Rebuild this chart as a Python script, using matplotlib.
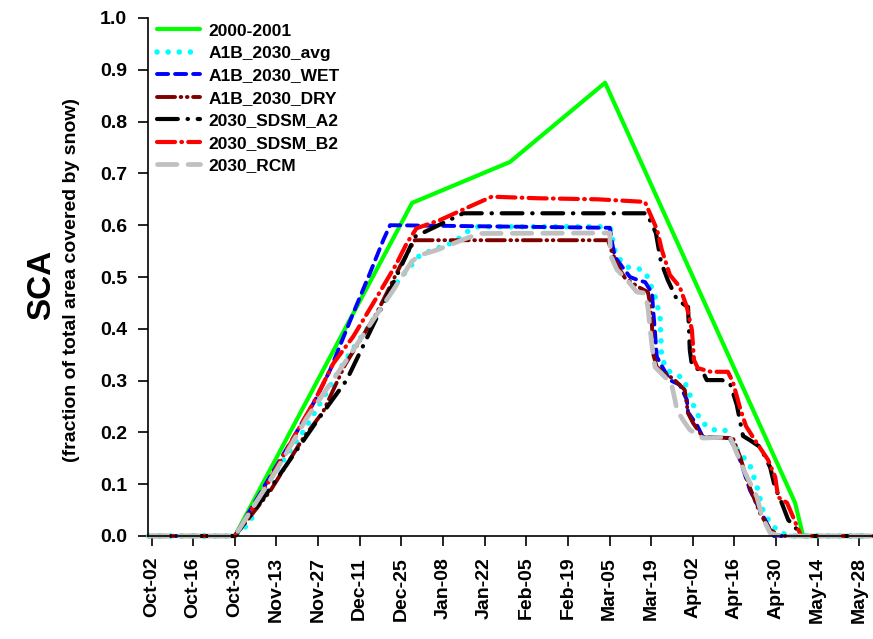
import matplotlib
matplotlib.use("Agg")
import matplotlib.pyplot as plt

plt.rcParams['font.family'] = ['Liberation Sans', 'DejaVu Sans']
plt.rcParams['font.weight'] = 'bold'
plt.rcParams['lines.scale_dashes'] = False

# x values are days after Oct-02 (season 2000-2001)
tick_days = list(range(0, 239, 14))
tick_labels = ["Oct-02", "Oct-16", "Oct-30", "Nov-13", "Nov-27", "Dec-11", "Dec-25",
               "Jan-08", "Jan-22", "Feb-05", "Feb-19", "Mar-05", "Mar-19", "Apr-02",
               "Apr-16", "Apr-30", "May-14", "May-28"]

obs_x = [-1, 28, 87.6, 120.5, 152.5, 216.4, 219.1, 242]
obs_y = [0, 0, 0.643, 0.722, 0.875, 0.064, 0, 0]

avg_x = [-1, 28, 33, 38.1, 43.2, 51, 57.7, 62.2, 66.7, 74.5, 81.3, 84.6, 90.2, 95.9, 102, 106, 109.3,
         152.4, 154.8, 155.2, 156.5, 160.2, 164.2, 166.2, 167.6, 169.3, 171.0, 171.5, 173.3, 178.7,
         181.7, 182.7, 185.4, 188.7, 192.7, 196.8, 201.2, 203.6, 205.6, 208.0, 211.4, 215.8, 242]
avg_y = [0, 0, 0.025, 0.095, 0.137, 0.201, 0.266, 0.311, 0.353, 0.417, 0.481, 0.504, 0.542, 0.555, 0.568,
         0.587, 0.597, 0.597, 0.591, 0.562, 0.539, 0.519, 0.515, 0.508, 0.488, 0.463, 0.423, 0.346,
         0.320, 0.305, 0.263, 0.243, 0.218, 0.205, 0.205, 0.168, 0.137, 0.095, 0.050, 0.025, 0.006, 0, 0]

wet_x = [-1, 28, 48.8, 55, 60, 67.8, 73.4, 77.9, 80.2, 154.1, 154.8, 155.8, 158.6, 160.9, 163.6, 166.0,
         168.3, 168.6, 169.3, 169.9, 171.6, 174.3, 177.6, 180.0, 180.4, 183.4, 185.4, 194.5, 197.9,
         201.2, 204.6, 208.0, 209.3, 242]
wet_y = [0, 0, 0.201, 0.262, 0.32, 0.43, 0.507, 0.571, 0.6, 0.595, 0.568, 0.539, 0.517, 0.500, 0.494,
         0.490, 0.469, 0.442, 0.392, 0.346, 0.328, 0.301, 0.292, 0.263, 0.239, 0.214, 0.191, 0.189,
         0.147, 0.089, 0.050, 0.012, 0, 0]

dry_x = [-1, 28, 39.8, 51, 57.7, 65, 75.7, 83.5, 88.5, 153.5, 154.8, 157.5, 159.2, 163.6, 166.9, 167.6,
         168.3, 168.6, 169.9, 172.6, 175.9, 179.3, 180.4, 182.1, 185.4, 195.5, 197.9, 200.6, 204.6,
         208.0, 211.4, 242]
dry_y = [0, 0, 0.086, 0.189, 0.24, 0.33, 0.43, 0.52, 0.571, 0.571, 0.548, 0.514, 0.498, 0.481, 0.471,
         0.450, 0.403, 0.353, 0.326, 0.315, 0.301, 0.282, 0.237, 0.218, 0.191, 0.189, 0.153, 0.102,
         0.044, 0.012, 0, 0]

a2_x = [-1, 28, 38.7, 55.5, 65.6, 80.2, 88.6, 104.8, 166.5, 169.6, 171.3, 173.6, 176.7, 180.4, 181.0,
        181.7, 185.5, 186.7, 191.8, 194.5, 196.8, 198.9, 201.2, 204.6, 208, 209.6, 211.9, 214.1, 216.4,
        218.6, 242]
a2_y = [0, 0, 0.082, 0.221, 0.301, 0.475, 0.578, 0.623, 0.623, 0.585, 0.529, 0.494, 0.456, 0.442, 0.359,
        0.330, 0.315, 0.301, 0.301, 0.295, 0.253, 0.193, 0.185, 0.172, 0.133, 0.095, 0.064, 0.031, 0.017,
        0, 0]

b2_x = [-1, 28, 38.7, 55, 61.1, 67.8, 74.5, 82.4, 85.8, 89.1, 97, 107, 114.4, 130, 150, 165.9, 170.0,
        171.6, 174.3, 177.6, 180.0, 181.7, 182.4, 183.7, 188.1, 193.8, 195.5, 197.9, 199.9, 202.9,
        207.3, 209.7, 210.7, 213.7, 215.7, 218.4, 242]
b2_y = [0, 0, 0.098, 0.263, 0.333, 0.385, 0.449, 0.526, 0.565, 0.594, 0.61, 0.636, 0.655, 0.652, 0.650,
        0.645, 0.591, 0.552, 0.504, 0.481, 0.442, 0.398, 0.340, 0.324, 0.317, 0.317, 0.297, 0.247,
        0.212, 0.185, 0.147, 0.114, 0.075, 0.064, 0.037, 0, 0]

rcm_x = [-1, 28, 42, 52.1, 65.6, 74.5, 81.3, 87.5, 90.2, 95.9, 106, 110.4, 154.1, 154.3, 156.5, 159.9,
         163.2, 165.9, 166.9, 167.6, 168.3, 169.3, 172.6, 174.9, 176.0, 176.7, 178.7, 181.0, 185.4,
         194.5, 196.8, 199.6, 203.6, 205.3, 208.0, 211.4, 242]
rcm_y = [0, 0, 0.127, 0.227, 0.340, 0.417, 0.475, 0.530, 0.542, 0.552, 0.575, 0.584, 0.585, 0.542, 0.514,
         0.494, 0.471, 0.469, 0.442, 0.403, 0.365, 0.326, 0.307, 0.292, 0.263, 0.243, 0.224, 0.205,
         0.189, 0.191, 0.160, 0.122, 0.075, 0.037, 0.006, 0, 0]

fig = plt.figure(figsize=(8.73, 6.39), dpi=100)
ax = fig.add_axes([148 / 873, 103 / 639, 725 / 873, 518 / 639])

ax.plot(obs_x, obs_y, color='#00ff00', lw=3.0, label='2000-2001', clip_on=False, solid_capstyle='round')
ax.plot(avg_x, avg_y, color='#00ffff', lw=4.0, dashes=(0.01, 8), dash_capstyle='round',
        label='A1B_2030_avg', clip_on=False)
ax.plot(wet_x, wet_y, color='#0000ff', lw=2.8, dashes=(8, 5), dash_capstyle='round',
        label='A1B_2030_WET', clip_on=False)
ax.plot(dry_x, dry_y, color='#800000', lw=2.8, dashes=(13, 4, 0.5, 4, 0.5, 4), dash_capstyle='round',
        label='A1B_2030_DRY', clip_on=False)
ax.plot(a2_x, a2_y, color='black', lw=3.0, dashes=(15, 7, 0.3, 7), dash_capstyle='round',
        label='2030_SDSM_A2', clip_on=False)
ax.plot(b2_x, b2_y, color='#ff0000', lw=3.0, dashes=(13, 4.5, 0.5, 4.5), dash_capstyle='round',
        label='2030_SDSM_B2', clip_on=False)
ax.plot(rcm_x, rcm_y, color='#c0c0c0', lw=3.4, dashes=(14, 8), dash_capstyle='round',
        label='2030_RCM', clip_on=False)

ax.set_xlim(-1.2, 242.6)
ax.set_ylim(0, 1.0)
ax.set_xticks(tick_days)
ax.set_xticklabels(tick_labels, rotation=90, fontsize=14, fontweight='bold')
ax.set_yticks([i / 10 for i in range(11)])
ax.set_yticklabels([f"{i / 10:.1f}" for i in range(11)], fontsize=14, fontweight='bold')
ax.tick_params(axis='both', direction='out', length=7, width=1.2, color='black')
ax.tick_params(axis='x', pad=8)
ax.tick_params(axis='y', pad=8)

ax.spines['top'].set_visible(False)
ax.spines['right'].set_visible(False)
ax.spines['left'].set_linewidth(1.2)
ax.spines['bottom'].set_linewidth(1.2)

fig.text(42 / 873, 1 - 285 / 639, "SCA", rotation=90, fontsize=24, fontweight='bold',
         ha='center', va='center')
fig.text(72 / 873, 1 - 280 / 639, "(fraction of total area covered by snow)", rotation=90, fontsize=14,
         fontweight='bold', ha='center', va='center')

ax.legend(loc='upper left', bbox_to_anchor=(-0.005, 1.013), frameon=False, fontsize=12.5,
          handlelength=2.5, labelspacing=0.42, handletextpad=0.5, borderaxespad=0.3)

fig.savefig("out.png", dpi=100)
